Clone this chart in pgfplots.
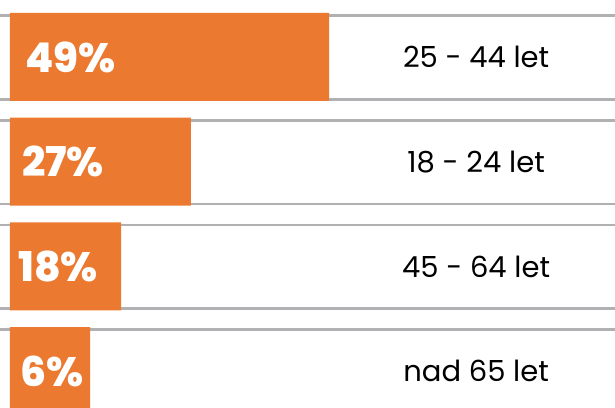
\documentclass[border=0pt]{standalone}
\usepackage{pgfplots}
\pgfplotsset{compat=1.18}
\usepackage{fontspec}
\setmainfont{Poppins}
\newfontfamily\pctfont{Poppins}[UprightFont={* ExtraBold}]
\definecolor{barorange}{HTML}{EB7A30}
\definecolor{linegray}{HTML}{B1B1B3}
\pgfplotsset{myax/.style={
  scale only axis,
  width=615pt, height=408pt,
  xmin=-1.536, xmax=92.93,
  ymin=-0.544, ymax=3.352,
  y dir=reverse,
  axis lines=box,
  axis line style={draw=none},
  ticks=none,
}}
\begin{document}
\begin{tikzpicture}
\begin{axis}[myax, clip=true]
% gray row lines
\addplot[linegray, line width=2.6pt, forget plot] coordinates {(-2,-0.396) (94,-0.396)};
\addplot[linegray, line width=2.6pt, forget plot] coordinates {(-2,0.404) (94,0.404)};
\addplot[linegray, line width=2.6pt, forget plot] coordinates {(-2,0.604) (94,0.604)};
\addplot[linegray, line width=2.6pt, forget plot] coordinates {(-2,1.404) (94,1.404)};
\addplot[linegray, line width=2.6pt, forget plot] coordinates {(-2,1.604) (94,1.604)};
\addplot[linegray, line width=2.6pt, forget plot] coordinates {(-2,2.404) (94,2.404)};
\addplot[linegray, line width=2.6pt, forget plot] coordinates {(-2,2.604) (94,2.604)};
% bars
\addplot[xbar, bar width=0.8405, fill=barorange, draw=none, forget plot]
  coordinates {(49,0) (27.8,1) (17.05,2) (12.29,3)};
% percentage labels
\addplot[draw=none, mark=none, nodes near coords, point meta=explicit symbolic,
  nodes near coords style={anchor=west, inner sep=0pt, text=white, font=\pctfont\fontsize{41}{41}\selectfont}]
  table[meta=label] {
x y label
2.30 0.0 49\%
1.84 1.0 27\%
1.23 2.0 18\%
1.54 3.0 6\%
};
\end{axis}
\begin{axis}[myax]
\addplot[draw=none, mark=none, nodes near coords, point meta=explicit symbolic,
  nodes near coords style={anchor=center, inner sep=0pt, text=black, font=\fontsize{29}{29}\selectfont}]
  table[meta=label] {
x y label
71.6 0.0 {25 - 44 let}
71.6 1.0 {18 - 24 let}
71.6 2.0 {45 - 64 let}
71.6 3.0 {nad 65 let}
};
\end{axis}
\path (current axis.south west) rectangle (current axis.north east);
\end{tikzpicture}
\end{document}
